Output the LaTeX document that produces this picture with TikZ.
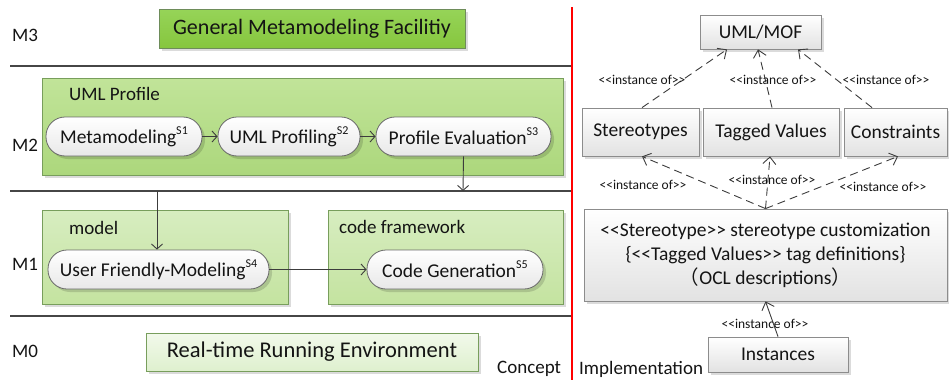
\documentclass[tikz,border=0pt]{standalone}
\usepackage{fontspec}
\setmainfont{Carlito}
\newfontfamily\cjk{Noto Sans CJK SC}
\usetikzlibrary{arrows.meta,shadows}

\definecolor{ink}{RGB}{20,20,20}
\definecolor{rule}{RGB}{70,70,70}
\definecolor{wire}{RGB}{60,60,60}
\definecolor{titletop}{RGB}{150,212,88}
\definecolor{titlebot}{RGB}{134,198,62}
\definecolor{titleline}{RGB}{110,140,90}
\definecolor{proftop}{RGB}{193,228,153}
\definecolor{profbot}{RGB}{172,215,124}
\definecolor{profline}{RGB}{120,158,92}
\definecolor{lvtop}{RGB}{215,237,192}
\definecolor{lvbot}{RGB}{196,227,160}
\definecolor{envtop}{RGB}{242,249,235}
\definecolor{envbot}{RGB}{222,240,206}
\definecolor{pillbot}{RGB}{232,232,232}
\definecolor{pillline}{RGB}{105,105,105}
\definecolor{boxbot}{RGB}{226,226,226}
\definecolor{boxline}{RGB}{140,140,140}

\newcommand\supS[1]{\raisebox{0.45em}{\fontsize{12}{12}\selectfont #1}}

\begin{document}
\begin{tikzpicture}[x=1pt,y=-1pt,
  every node/.style={text=ink, inner sep=0pt},
  shade/.style={drop shadow={shadow xshift=3pt,shadow yshift=-3pt,fill=black,opacity=0.14}},
  levellabel/.style={anchor=west, font=\fontsize{19}{21}\selectfont},
  grouplabel/.style={anchor=west, font=\fontsize{19}{22}\selectfont},
  groupbox/.style={rectangle, draw=profline, line width=0.7pt, shade},
  pill/.style={rectangle, rounded corners=19pt, draw=pillline, line width=0.8pt,
    top color=white, bottom color=pillbot, minimum height=39pt,
    font=\fontsize{19.5}{22}\selectfont, shade},
  implbox/.style={rectangle, draw=boxline, line width=0.8pt,
    top color=white, bottom color=boxbot, font=\fontsize{19.5}{22}\selectfont, shade},
  conn/.style={draw=wire, line width=0.9pt, -{Straight Barb[length=5pt,width=11pt]}},
  inst/.style={draw=wire, line width=0.9pt, dash pattern=on 8pt off 5pt,
    -{Straight Barb[length=7pt,width=13pt]}},
  instlabel/.style={font=\fontsize{13.5}{15}\selectfont},
  seprule/.style={draw=rule, line width=1.3pt}
]
\useasboundingbox (0,0) rectangle (949,380);

% ---------- left half: metamodel levels ----------
\coordinate (r1a) at (10,66);   \coordinate (r1b) at (572,66);
\coordinate (r2a) at (10,191);  \coordinate (r2b) at (572,191);
\coordinate (r3a) at (10,316);  \coordinate (r3b) at (572,316);
\draw[seprule] (r1a) -- (r1b);
\draw[seprule] (r2a) -- (r2b);
\draw[seprule] (r3a) -- (r3b);

\node[levellabel] (m3) at (12,35) {M3};
\node[levellabel] (m2) at (12,145) {M2};
\node[levellabel] (m1) at (12,264) {M1};
\node[levellabel] (m0) at (12,351) {M0};

% M3
\node[rectangle, draw=titleline, line width=0.7pt, top color=titletop, bottom color=titlebot,
      minimum width=306pt, minimum height=39pt, font=\fontsize{22}{24}\selectfont, shade]
      (gmf) at (312,28.5) {General Metamodeling Facilitiy};

% M2
\node[groupbox, top color=proftop, bottom color=profbot, minimum width=521pt, minimum height=97pt]
      (profile) at (302.5,126.5) {};
\node[grouplabel] (proflabel) at (69,94) {UML Profile};
\node[pill, minimum width=156pt] (s1) at (124,136.5) {Metamodeling\supS{S1}};
\node[pill, minimum width=142pt] (s2) at (289,136.5) {UML Profiling\supS{S2}};
\node[pill, minimum width=175pt] (s3) at (463.5,136.5) {Profile Evaluation\supS{S3}};

% M1
\node[groupbox, top color=lvtop, bottom color=lvbot, minimum width=246pt, minimum height=94pt]
      (model) at (165,257) {};
\node[grouplabel] (modellabel) at (69,228) {model};
\node[groupbox, top color=lvtop, bottom color=lvbot, minimum width=235pt, minimum height=94pt]
      (codefw) at (445.5,257) {};
\node[grouplabel] (codelabel) at (339,227) {code framework};
\node[pill, minimum width=221pt] (s4) at (158.5,269.5) {User Friendly-Modeling\supS{S4}};
\node[pill, minimum width=176pt] (s5) at (455,269.5) {Code Generation\supS{S5}};

% M0
\node[groupbox, top color=envtop, bottom color=envbot, minimum width=332pt, minimum height=38pt,
      font=\fontsize{22.5}{24}\selectfont] (env) at (312,352) {Real-time Running Environment};

% flow between steps
\draw[conn] (s1.east) -- (s2.west);
\draw[conn] (s2.east) -- (s3.west);
\coordinate (drop3) at (463,191);
\draw[conn] (s3.south) -- (drop3);
\coordinate (feed4) at (157,191);
\draw[conn] (feed4) -- (feed4 |- s4.north);
\draw[conn] (s4.east) -- (s5.west);

\node[grouplabel] (concept) at (497,369) {Concept};

% ---------- divider ----------
\coordinate (divtop) at (572,7);
\coordinate (divbot) at (572,380);
\draw[red, line width=2.4pt] (divtop) -- (divbot);

% ---------- right half: implementation ----------
\node[implbox, minimum width=121pt, minimum height=34pt] (mof) at (760.5,32) {UML/MOF};
\node[implbox, minimum width=117pt, minimum height=48pt] (ster) at (640.5,132) {Stereotypes};
\node[implbox, minimum width=136pt, minimum height=48pt] (tag) at (771,132) {Tagged Values};
\node[implbox, minimum width=103pt, minimum height=48pt] (cons) at (895.5,132) {Constraints};
\node[implbox, minimum width=363pt, minimum height=92pt, align=center,
      font=\fontsize{19.5}{24}\selectfont] (custom) at (765.5,255)
      {<{}<Stereotype>{}> stereotype customization\\
       \{<{}<Tagged Values>{}> tag definitions\}\\
       {\cjk （}OCL descriptions{\cjk ）}};
\node[implbox, minimum width=140pt, minimum height=35pt] (insts) at (778,354.5) {Instances};

\draw[inst] ([xshift=1.5pt]ster.north) -- ([xshift=-33.5pt]mof.south);
\draw[inst] ([xshift=1pt]tag.north) -- ([xshift=-2.5pt]mof.south);
\draw[inst] ([xshift=-23.5pt]cons.north) -- ([xshift=37.5pt]mof.south);

\draw[inst] (custom.north) -- ([xshift=1.5pt]ster.south);
\draw[inst] (custom.north) -- ([xshift=-1pt]tag.south);
\draw[inst] (custom.north) -- ([xshift=2.5pt]cons.south);

\draw[conn, -{Straight Barb[length=7pt,width=13pt]}] (insts.north) -- (custom.south);

\node[instlabel] (il1) at (642,80) {<{}<instance of>{}>};
\node[instlabel] (il2) at (773,80) {<{}<instance of>{}>};
\node[instlabel] (il3) at (886,80) {<{}<instance of>{}>};
\node[instlabel] (il4) at (643,185) {<{}<instance of>{}>};
\node[instlabel] (il5) at (772,180) {<{}<instance of>{}>};
\node[instlabel] (il6) at (883,187) {<{}<instance of>{}>};
\node[instlabel] (il7) at (765,324) {<{}<instance of>{}>};

\node[grouplabel] (impl) at (579,369) {Implementation};
\end{tikzpicture}
\end{document}
